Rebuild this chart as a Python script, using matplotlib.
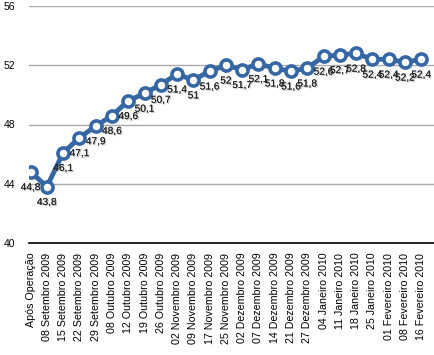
import matplotlib
matplotlib.use("Agg")
import matplotlib.pyplot as plt
import matplotlib.patheffects as pe
import matplotlib.transforms as mtransforms

categories = ["Após Operação", "08 Setembro 2009", "15 Setembro 2009", "22 Setembro 2009",
              "29 Setembro 2009", "08 Outubro 2009", "12 Outubro 2009", "19 Outubro 2009",
              "26 Outubro 2009", "02 Novembro 2009", "09 Novembro 2009", "17 Novembro 2009",
              "25 Novembro 2009", "02 Dezembro 2009", "07 Dezembro 2009", "14 Dezembro 2009",
              "21 Dezembro 2009", "27 Dezembro 2009", "04 Janeiro 2010", "11 Janeiro 2010",
              "18 Janeiro 2010", "25 Janeiro 2010", "01 Fevereiro 2010", "08 Fevereiro 2010",
              "16 Fevereiro 2010"]
values = [44.8, 43.8, 46.1, 47.1, 47.9, 48.6, 49.6, 50.1, 50.7, 51.4, 51.0, 51.6, 52.0,
          51.7, 52.1, 51.8, 51.6, 51.8, 52.6, 52.7, 52.8, 52.4, 52.4, 52.2, 52.4]
yticks = [40, 44, 48, 52, 56]

plt.rcParams['font.family'] = ['Liberation Sans', 'DejaVu Sans']

fig = plt.figure(figsize=(4.35, 3.55), dpi=100)
ax = fig.add_axes([29/435, 1 - 243/355, 1 - 29/435, (243 - 6)/355])

x = list(range(len(categories)))
color = '#3567A5'
ax.plot(x, values, color=color, lw=3.5, marker='o', ms=8, mfc='white', mec=color,
        mew=2.6, zorder=3, solid_joinstyle='round')

shadow = [pe.withSimplePatchShadow(offset=(0.8, -0.8), shadow_rgbFace='#999999', alpha=0.6),
          pe.Normal()]
for xi, v in zip(x, values):
    lbl = f"{v:g}".replace('.', ',')
    ax.annotate(lbl, (xi, v), xytext=(0, -11), textcoords='offset points',
                ha='center', va='center', fontsize=7.3, color='#222222',
                path_effects=shadow, zorder=4)

ax.set_ylim(40, 56)
ax.set_xlim(-0.1, 24.85)
ax.set_yticks(yticks)
ax.set_yticklabels([str(t) for t in yticks], fontsize=7.5)
ax.set_xticks(x)
ax.set_xticklabels(categories, rotation=90, fontsize=7.7, va='top', ha='center')
ax.tick_params(axis='both', length=0)
ax.tick_params(axis='x', pad=7)
for lab in ax.get_yticklabels():
    lab.set_horizontalalignment('left')
    lab.set_transform(ax.get_yaxis_transform() +
                      mtransforms.ScaledTranslation(-25/100, 0, fig.dpi_scale_trans))
    lab.set_x(0)

ax.grid(axis='y', color='#aaaaaa', lw=1)
ax.set_axisbelow(True)
for s in ['top', 'right', 'left']:
    ax.spines[s].set_visible(False)
ax.spines['bottom'].set_color('black')
ax.spines['bottom'].set_linewidth(1.2)

fig.savefig('out.png', dpi=100)
